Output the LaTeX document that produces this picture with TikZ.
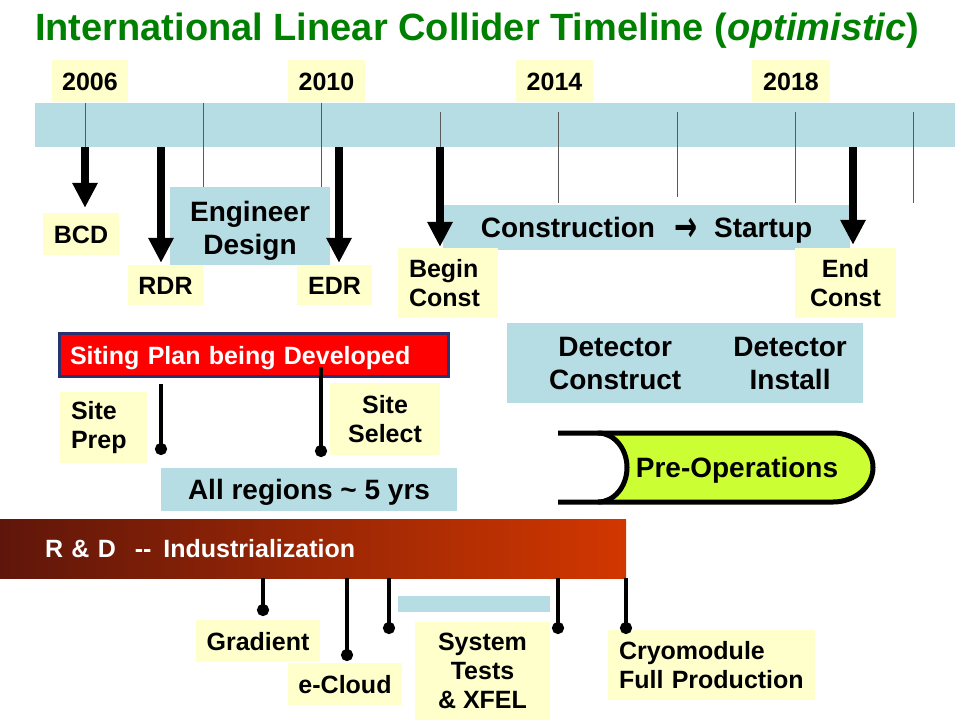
\documentclass[tikz,border=0pt]{standalone}
\usepackage{fontspec}
\setmainfont{Liberation Sans}
\newfontfamily\arrowfont{DejaVu Sans}
\usetikzlibrary{arrows.meta,calc}
\definecolor{tlblue}{RGB}{183,221,228}
\definecolor{yelbg}{RGB}{255,255,204}
\definecolor{ttlgreen}{RGB}{0,128,0}
\definecolor{sitered}{RGB}{255,0,0}
\definecolor{siteborder}{RGB}{40,50,110}
\definecolor{limefill}{RGB}{204,255,51}
\definecolor{rdleft}{RGB}{95,22,10}
\definecolor{rdright}{RGB}{210,55,0}
\definecolor{tickgray}{RGB}{90,90,90}
\newcommand\labfont{\fontsize{25}{29}\selectfont\bfseries}
\newcommand\biglabfont{\fontsize{28}{33}\selectfont\bfseries}
\newcommand\shiftdown[2]{\raisebox{-#1}[\height][\depth]{#2}}
\begin{document}
\begin{tikzpicture}[x=1pt,y=-1pt,
  yelbox/.style={fill=yelbg, inner sep=0pt, align=center, font=\labfont},
  bluebox/.style={fill=tlblue, inner sep=0pt, align=center, font=\biglabfont},
  capc/.style={text height=18pt, text depth=0pt},
  bigcapc/.style={text height=20pt, text depth=0pt},
  tickline/.style={draw=tickgray, line width=1pt},
  bigarr/.style={line width=8pt, -{Triangle[width=24pt,length=25pt]}},
  pinline/.style={line width=4pt, -{Circle[length=12pt,width=12pt]}},
  preops/.style={line width=5pt, line cap=butt}]
\useasboundingbox (0,0) rectangle (960,720);

% title
\node[anchor=base west, inner sep=0pt, text=ttlgreen, font=\fontsize{38}{42}\selectfont\bfseries] (title) at (35,40) {International Linear Collider Timeline (\textit{optimistic})};

% year labels
\node[yelbox, capc, minimum width=76, minimum height=42] (y2006) at (90,81) {2006};
\node[yelbox, capc, minimum width=77, minimum height=42] (y2010) at (326.5,81) {2010};
\node[yelbox, capc, minimum width=77, minimum height=42] (y2014) at (554.5,81) {2014};
\node[yelbox, capc, minimum width=78, minimum height=42] (y2018) at (791,81) {2018};

% timeline bar
\node[fill=tlblue, minimum width=920, minimum height=44, inner sep=0pt] (bar) at (495,125) {};

% ticks
\draw[tickline] (85,103) -- (85,147);
\draw[tickline] (203,103) -- (203,187);
\draw[tickline] (321,103) -- (321,187);
\draw[tickline] (440,112) -- (440,147);
\draw[tickline] (558,112) -- (558,203);
\draw[tickline] (677,112) -- (677,197);
\draw[tickline] (795,112) -- (795,203);
\draw[tickline] (913,112) -- (913,203);

% phase boxes
\node[bluebox, minimum width=160, minimum height=78] (eng) at (250,226) {\shiftdown{5pt}{\begin{tabular}{@{}c@{}}Engineer\\Design\end{tabular}}};
\node[bluebox, bigcapc, minimum width=407, minimum height=45] (cons) at (646.5,227.5) {Construction\hspace{19pt}\raisebox{-3.5pt}{\arrowfont\fontsize{24}{28}\selectfont\scalebox{1.15}[1.8]{→}}\hspace{17pt}Startup};

% milestone labels
\node[yelbox, capc, minimum width=76, minimum height=42] (bcd) at (81,234) {BCD};
\node[yelbox, capc, minimum width=75, minimum height=40] (rdr) at (165.5,285) {RDR};
\node[yelbox, capc, minimum width=75, minimum height=40] (edr) at (334.5,285) {EDR};
\node[yelbox, text width=78pt, inner xsep=11pt, minimum height=70, align=left] (bcon) at (448,283) {Begin\\Const};
\node[yelbox, minimum width=101, minimum height=70] (econ) at (845.5,283) {End\\Const};

% milestone arrows
\coordinate (aBCD) at (85,147);
\coordinate (aRDR) at (161,147);
\coordinate (aEDR) at (339,147);
\coordinate (aBeg) at (440,147);
\coordinate (aEnd) at (853,147);
\draw[bigarr] (aBCD) -- ($(aBCD |- bcd.north)+(0,-5)$);
\draw[bigarr] (aRDR) -- ($(aRDR |- rdr.north)+(0,-2)$);
\draw[bigarr] (aEDR) -- ($(aEDR |- edr.north)+(0,-2)$);
\draw[bigarr] (aBeg) -- ($(aBeg |- bcon.north)+(0,-1)$);
\draw[bigarr] (aEnd) -- ($(aEnd |- econ.north)+(0,-3)$);

% detector
\node[fill=tlblue, minimum width=356, minimum height=80, inner sep=0pt] (det) at (685,363) {};
\node[font=\biglabfont, inner sep=0pt] (dettxt) at (698,366.5) {\begin{tabular}{@{}c@{\hspace{52pt}}c@{}}Detector & Detector\\ Construct & Install\end{tabular}};

% siting
\node[fill=sitered, draw=siteborder, line width=3pt, text=white, font=\labfont, capc, text width=368pt, inner xsep=10.5pt, inner ysep=0pt, minimum height=43, align=left] (siting) at (254,355) {Siting Plan being Developed};
\node[yelbox, text width=65pt, inner xsep=11pt, minimum height=71, align=left] (sprep) at (103.5,427.5) {Site\\Prep};
\node[yelbox, minimum width=110, minimum height=72] (ssel) at (385,419) {Site\\Select};
\node[bluebox, bigcapc, minimum width=296, minimum height=43] (allreg) at (309,489.5) {All regions \textasciitilde{} 5 yrs};
\coordinate (sp1) at (161,384);
\coordinate (sp1e) at (161,455);
\coordinate (sp2) at (321,367);
\coordinate (sp2e) at (321,457);
\draw[pinline] (sp1) -- (sp1e);
\draw[pinline] (sp2) -- (sp2e);

% pre-operations
\fill[limefill] (598,433) -- (833,433) .. controls (855,433) and (873,448.5) .. (873,467.5) .. controls (873,486.5) and (855,502) .. (833,502) -- (598,502) .. controls (614,502) and (627,486.5) .. (627,467.5) .. controls (627,448.5) and (614,433) .. (598,433) -- cycle;
\draw[preops] (558,433) -- (833,433) .. controls (855,433) and (873,448.5) .. (873,467.5) .. controls (873,486.5) and (855,502) .. (833,502) -- (558,502);
\draw[preops] (598,433) .. controls (614,433) and (627,448.5) .. (627,467.5) .. controls (627,486.5) and (614,502) .. (598,502);
\node[font=\biglabfont, bigcapc, inner sep=0pt] (preop) at (737,467) {Pre-Operations};

% R&D
\node[left color=rdleft, right color=rdright, text=white, font=\labfont, capc, text width=536pt, inner xsep=45pt, inner ysep=0pt, minimum height=59, align=left] (rd) at (313,548.5) {R \& D\hspace{19pt}-{}-\hspace{12pt}Industrialization};
\node[fill=tlblue, minimum width=152, minimum height=16, inner sep=0pt] (sysbar) at (474,604) {};
\node[yelbox, capc, minimum width=124, minimum height=42] (grad) at (258,641) {Gradient};
\node[yelbox, capc, minimum width=114, minimum height=42] (ecl) at (345,684) {e-Cloud};
\node[yelbox, minimum width=135, minimum height=98] (sys) at (482.5,671) {System\\Tests\\\& XFEL};
\node[yelbox, text width=185pt, inner xsep=11pt, minimum height=70, align=left] (cryo) at (711.5,665) {Cryomodule\\Full Production};
\coordinate (r1) at (263,578); \coordinate (r1e) at (263,616);
\coordinate (r2) at (347,578); \coordinate (r2e) at (347,661);
\coordinate (r3) at (389,578); \coordinate (r3e) at (389,634);
\coordinate (r4) at (558,578); \coordinate (r4e) at (558,634);
\coordinate (r5) at (626,578); \coordinate (r5e) at (626,634);
\draw[pinline] (r1) -- (r1e);
\draw[pinline] (r2) -- (r2e);
\draw[pinline] (r3) -- (r3e);
\draw[pinline] (r4) -- (r4e);
\draw[pinline] (r5) -- (r5e);
\end{tikzpicture}
\end{document}
